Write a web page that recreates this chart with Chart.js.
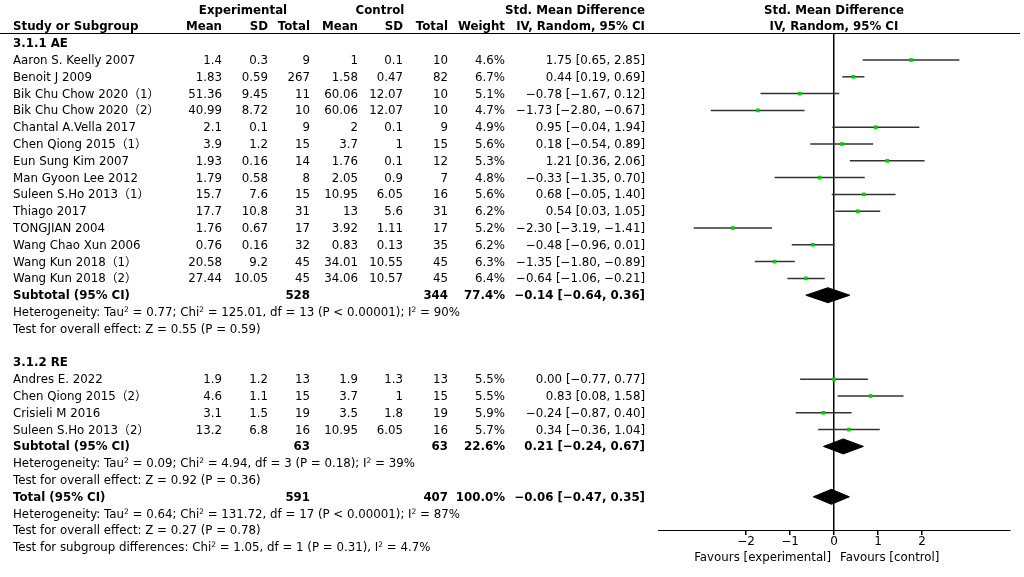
<!DOCTYPE html>
<html>
<head>
<meta charset="utf-8">
<script src="https://cdn.jsdelivr.net/npm/chart.js@4"></script>
<style>
  html, body { margin: 0; padding: 0; background: #fff; }
  #page { position: relative; width: 1024px; height: 577px; overflow: hidden;
          font-family: "DejaVu Sans", "Noto Sans CJK SC", sans-serif; font-size: 11.8px; color: #000; }
  #page .t { position: absolute; white-space: nowrap; line-height: 16px; height: 16px; }
  #page .b { font-weight: bold; }
  #page sup { font-size: 7.5px; vertical-align: 4px; line-height: 0; }
  #rule { position: absolute; left: 0; top: 33px; width: 1020px; height: 0; border-top: 1px solid #000; }
  #plot { position: absolute; left: 0; top: 0; }
</style>
</head>
<body>
<div id="page">
  <div id="rule"></div>
  <canvas id="plot" width="1024" height="577"></canvas>
</div>
<script>
// 研究ごとのデータ
const studies = ['Aaron S. Keelly 2007', 'Benoit J 2009', 'Bik Chu Chow 2020（1）', 'Bik Chu Chow 2020（2）',
  'Chantal A.Vella 2017', 'Chen Qiong 2015（1）', 'Eun Sung Kim 2007', 'Man Gyoon Lee 2012',
  'Suleen S.Ho 2013（1）', 'Thiago 2017', 'TONGJIAN 2004', 'Wang Chao Xun 2006', 'Wang Kun 2018（1）',
  'Wang Kun 2018（2）', 'Andres E. 2022', 'Chen Qiong 2015（2）', 'Crisieli M  2016', 'Suleen S.Ho 2013（2）'];
const subgroup = [0, 0, 0, 0, 0, 0, 0, 0, 0, 0, 0, 0, 0, 0, 1, 1, 1, 1];
const expMean = ['1.4', '1.83', '51.36', '40.99', '2.1', '3.9', '1.93', '1.79', '15.7', '17.7', '1.76', '0.76', '20.58', '27.44', '1.9', '4.6', '3.1', '13.2'];
const expSD = ['0.3', '0.59', '9.45', '8.72', '0.1', '1.2', '0.16', '0.58', '7.6', '10.8', '0.67', '0.16', '9.2', '10.05', '1.2', '1.1', '1.5', '6.8'];
const expN = [9, 267, 11, 10, 9, 15, 14, 8, 15, 31, 17, 32, 45, 45, 13, 15, 19, 16];
const ctlMean = ['1', '1.58', '60.06', '60.06', '2', '3.7', '1.76', '2.05', '10.95', '13', '3.92', '0.83', '34.01', '34.06', '1.9', '3.7', '3.5', '10.95'];
const ctlSD = ['0.1', '0.47', '12.07', '12.07', '0.1', '1', '0.1', '0.9', '6.05', '5.6', '1.11', '0.13', '10.55', '10.57', '1.3', '1', '1.8', '6.05'];
const ctlN = [10, 82, 10, 10, 9, 15, 12, 7, 16, 31, 17, 35, 45, 45, 13, 15, 19, 16];
const weight = [4.6, 6.7, 5.1, 4.7, 4.9, 5.6, 5.3, 4.8, 5.6, 6.2, 5.2, 6.2, 6.3, 6.4, 5.5, 5.5, 5.9, 5.7];
const smd = [1.75, 0.44, -0.78, -1.73, 0.95, 0.18, 1.21, -0.33, 0.68, 0.54, -2.30, -0.48, -1.35, -0.64, 0.00, 0.83, -0.24, 0.34];
const ciLow = [0.65, 0.19, -1.67, -2.80, -0.04, -0.54, 0.36, -1.35, -0.05, 0.03, -3.19, -0.96, -1.80, -1.06, -0.77, 0.08, -0.87, -0.36];
const ciHigh = [2.85, 0.69, 0.12, -0.67, 1.94, 0.89, 2.06, 0.70, 1.40, 1.05, -1.41, 0.01, -0.89, -0.21, 0.77, 1.58, 0.40, 1.04];

// サブグループと全体の要約
const groupNames = ['3.1.1 AE', '3.1.2 RE'];
const sumLabels = ['Subtotal (95% CI)', 'Subtotal (95% CI)', 'Total (95% CI)'];
const sumExpN = [528, 63, 591];
const sumCtlN = [344, 63, 407];
const sumWeight = ['77.4%', '22.6%', '100.0%'];
const sumSmd = [-0.14, 0.21, -0.06];
const sumLow = [-0.64, -0.24, -0.47];
const sumHigh = [0.36, 0.67, 0.35];
const hetText = [
  'Heterogeneity: Tau<sup>2</sup> = 0.77; Chi<sup>2</sup> = 125.01, df = 13 (P &lt; 0.00001); I<sup>2</sup> = 90%',
  'Heterogeneity: Tau<sup>2</sup> = 0.09; Chi<sup>2</sup> = 4.94, df = 3 (P = 0.18); I<sup>2</sup> = 39%',
  'Heterogeneity: Tau<sup>2</sup> = 0.64; Chi<sup>2</sup> = 131.72, df = 17 (P &lt; 0.00001); I<sup>2</sup> = 87%'
];
const effectText = ['Test for overall effect: Z = 0.55 (P = 0.59)', 'Test for overall effect: Z = 0.92 (P = 0.36)',
  'Test for overall effect: Z = 0.27 (P = 0.78)'];
const subgroupText = 'Test for subgroup differences: Chi<sup>2</sup> = 1.05, df = 1 (P = 0.31), I<sup>2</sup> = 4.7%';
const xTicks = [-2, -1, 0, 1, 2];

// 行の配置（行番号 → ピクセル）
const ROW0 = 60, PITCH = 16.8, TOP = 33, AXIS = 530;
const rowY = k => ROW0 + PITCH * k;
const page = document.getElementById('page');
const minus = s => String(s).replace(/-/g, '\u2212');
const fmt = v => minus(v.toFixed(2));
const ciStr = (s, l, h) => fmt(s) + ' [' + fmt(l) + ', ' + fmt(h) + ']';

function put(html, x, k, align, bold) {
  const d = document.createElement('div');
  d.className = 't' + (bold ? ' b' : '');
  d.innerHTML = html;
  const y = rowY(k) - 8;
  if (align === 'right') { d.style.left = (x - 300) + 'px'; d.style.width = '300px'; d.style.textAlign = 'right'; }
  else if (align === 'center') { d.style.left = (x - 150) + 'px'; d.style.width = '300px'; d.style.textAlign = 'center'; }
  else d.style.left = x + 'px';
  d.style.top = y + 'px';
  page.appendChild(d);
}

// 列の右端
const COL = { eMean: 222, eSD: 268, eN: 310, cMean: 358, cSD: 403, cN: 448, w: 505, ci: 645 };

// 見出し
put('Experimental', 243, -3, 'center', true);
put('Control', 380, -3, 'center', true);
put('Std. Mean Difference', COL.ci, -3, 'right', true);
put('Std. Mean Difference', 834, -3, 'center', true);
put('Study or Subgroup', 13, -2, 'left', true);
put('Mean', COL.eMean, -2, 'right', true);
put('SD', COL.eSD, -2, 'right', true);
put('Total', COL.eN, -2, 'right', true);
put('Mean', COL.cMean, -2, 'right', true);
put('SD', COL.cSD, -2, 'right', true);
put('Total', COL.cN, -2, 'right', true);
put('Weight', COL.w, -2, 'right', true);
put('IV, Random, 95% CI', COL.ci, -2, 'right', true);
put('IV, Random, 95% CI', 834, -2, 'center', true);

// 各行の行番号を決める
const studyRow = [];
const sumRow = [];
let k = -1;
groupNames.forEach(function (g, gi) {
  put(g, 13, k, 'left', true);
  k++;
  studies.forEach(function (s, i) {
    if (subgroup[i] === gi) { studyRow[i] = k; k++; }
  });
  sumRow[gi] = k;
  put(hetText[gi], 13, k + 1, 'left', false);
  put(effectText[gi], 13, k + 2, 'left', false);
  k += 4;
});
sumRow[2] = k - 1;
put(hetText[2], 13, sumRow[2] + 1, 'left', false);
put(effectText[2], 13, sumRow[2] + 2, 'left', false);
put(subgroupText, 13, sumRow[2] + 3, 'left', false);

studies.forEach(function (s, i) {
  const r = studyRow[i];
  put(s, 13, r, 'left', false);
  put(expMean[i], COL.eMean, r, 'right');
  put(expSD[i], COL.eSD, r, 'right');
  put(String(expN[i]), COL.eN, r, 'right');
  put(ctlMean[i], COL.cMean, r, 'right');
  put(ctlSD[i], COL.cSD, r, 'right');
  put(String(ctlN[i]), COL.cN, r, 'right');
  put(weight[i].toFixed(1) + '%', COL.w, r, 'right');
  put(ciStr(smd[i], ciLow[i], ciHigh[i]), COL.ci, r, 'right');
});
sumLabels.forEach(function (s, j) {
  const r = sumRow[j];
  put(s, 13, r, 'left', true);
  put(String(sumExpN[j]), COL.eN, r, 'right', true);
  put(String(sumCtlN[j]), COL.cN, r, 'right', true);
  put(sumWeight[j], COL.w, r, 'right', true);
  put(ciStr(sumSmd[j], sumLow[j], sumHigh[j]), COL.ci, r, 'right', true);
});

// 軸の下のラベル
const fav = document.createElement('div');
fav.className = 't';
fav.style.left = '600px'; fav.style.width = '231px'; fav.style.textAlign = 'right'; fav.style.top = '549px';
fav.textContent = 'Favours [experimental]';
page.appendChild(fav);
const fav2 = document.createElement('div');
fav2.className = 't';
fav2.style.left = '840px'; fav2.style.top = '549px';
fav2.textContent = 'Favours [control]';
page.appendChild(fav2);

// フォレストプロット
const datasets = [];
studies.forEach(function (s, i) {
  datasets.push({
    data: [{ x: ciLow[i], y: studyRow[i] }, { x: ciHigh[i], y: studyRow[i] }],
    showLine: true, borderColor: '#333', borderWidth: 1.5, pointRadius: 0, order: 2
  });
});
// 点推定（線より上に描く）
datasets.push({
  data: studies.map((s, i) => ({ x: smd[i], y: studyRow[i] })),
  pointStyle: 'rect', pointRadius: 2.6, backgroundColor: '#00d000', borderWidth: 0, order: 0
});
const half = 7.5 / PITCH;
sumLabels.forEach(function (s, j) {
  const r = sumRow[j];
  datasets.push({
    data: [{ x: sumLow[j], y: r }, { x: sumSmd[j], y: r - half }, { x: sumHigh[j], y: r },
      { x: sumSmd[j], y: r + half }, { x: sumLow[j], y: r }],
    showLine: true, fill: 'shape', backgroundColor: '#000', borderColor: '#000', borderWidth: 1,
    pointRadius: 0, tension: 0, order: 1
  });
});

new Chart(document.getElementById('plot'), {
  type: 'scatter',
  data: { datasets: datasets },
  options: {
    responsive: false,
    animation: false,
    events: [],
    layout: { padding: { left: 658, right: 14, top: TOP, bottom: 0 } },
    plugins: { legend: { display: false }, tooltip: { enabled: false } },
    scales: {
      x: {
        type: 'linear', min: -4, max: 4,
        afterBuildTicks: function (scale) { scale.ticks = xTicks.map(v => ({ value: v })); },
        afterFit: function (scale) { scale.height = 577 - AXIS; },
        border: { display: true, color: '#000', width: 1 },
        grid: {
          drawOnChartArea: true,
          color: ctx => (ctx.tick && ctx.tick.value === 0) ? '#000' : 'rgba(0,0,0,0)',
          lineWidth: 1.5, tickLength: 5, tickColor: '#000'
        },
        ticks: {
          color: '#000', padding: 0, maxRotation: 0,
          font: { family: 'DejaVu Sans', size: 12 },
          callback: v => minus(v)
        }
      },
      y: {
        type: 'linear', display: false, reverse: true,
        min: (TOP - ROW0) / PITCH, max: (AXIS - ROW0) / PITCH
      }
    }
  }
});
</script>
</body>
</html>
